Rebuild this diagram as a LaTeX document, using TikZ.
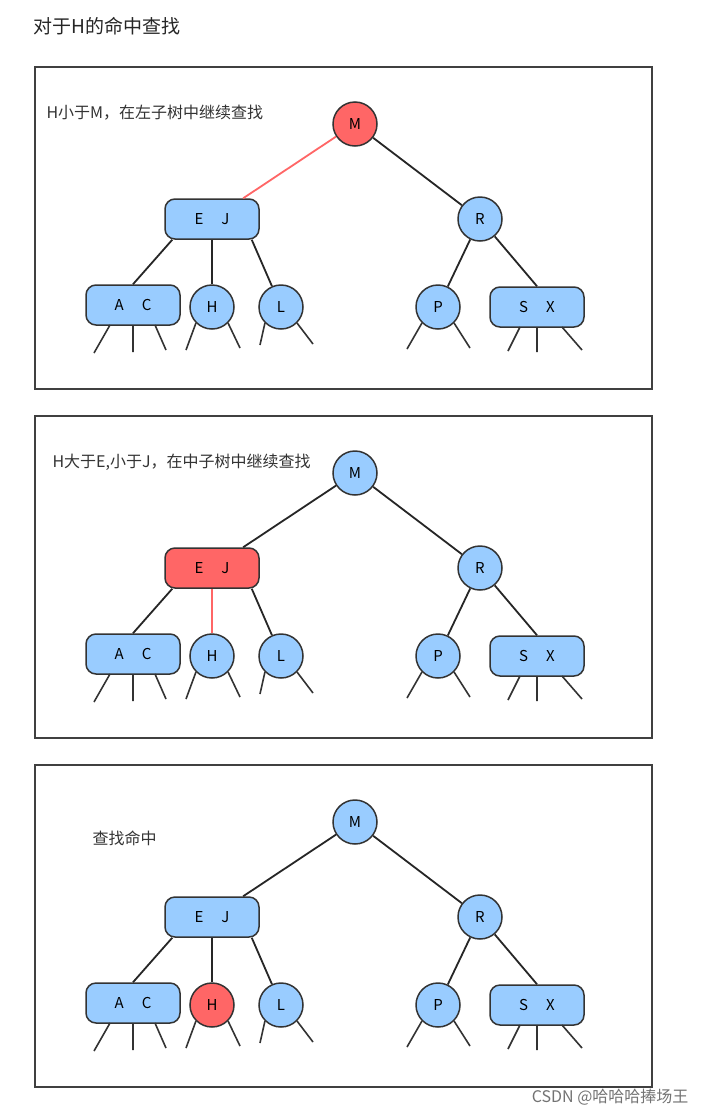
\documentclass[tikz,border=0pt]{standalone}
\usepackage{fontspec}
\setmainfont{Noto Sans CJK SC}
\usepackage{tikz}
\usetikzlibrary{positioning}

\definecolor{nodeblue}{HTML}{99CCFF}
\definecolor{hitred}{HTML}{FF6666}
\tikzset{
  circ/.style={circle,draw=black!80,line width=1.5pt,minimum size=44pt,inner sep=0pt,font=\fontsize{15}{15}\selectfont},
  pair/.style={rounded corners=10pt,draw=black!80,line width=1.5pt,minimum width=94pt,minimum height=40pt,inner sep=0pt,font=\fontsize{15}{15}\selectfont},
  edge/.style={line width=1.8pt,black!85},
  stub/.style={line width=1.6pt,black!80},
  frame/.style={draw=black!75,line width=1.4pt},
  note/.style={anchor=west,font=\fontsize{16}{16}\selectfont,black!80},
}

% one panel: #1 prefix, #2 M fill, #3 EJ fill, #4 H fill, #5 M-EJ colour, #6 EJ-H colour
\newcommand{\treepanel}[6]{
  \begin{scope}[name prefix=#1-]
    \draw[frame] (35,67) rectangle (652,389);
    \node[circ,fill=#2] (m) at (355,124) {M};
    \node[pair,fill=#3] (ej) at (212,219) {E\hspace{18pt}J};
    \node[circ,fill=nodeblue] (r) at (480,219) {R};
    \node[pair,fill=nodeblue] (ac) at (133,305) {A\hspace{18pt}C};
    \node[circ,fill=#4] (h) at (212,307) {H};
    \node[circ,fill=nodeblue] (l) at (281,307) {L};
    \node[circ,fill=nodeblue] (p) at (438,307) {P};
    \node[pair,fill=nodeblue] (sx) at (537,307) {S\hspace{18pt}X};
    \draw[edge,#5] (m) -- (ej);
    \draw[edge] (m) -- (r);
    \draw[edge] (ej.south west) ++(8,0) -- (ac.north);
    \draw[edge,#6] (ej.south) -- (h);
    \draw[edge] (ej.south east) ++(-8,0) -- (l);
    \draw[edge] (r) -- (p);
    \draw[edge] (r) -- (sx.north);
    % empty subtrees
    \draw[stub] (110,325) -- (94,353) (133,325) -- (133,352) (155,325) -- (166,350);
    \draw[stub] (h.south west) -- (186,350) (h.south east) -- (240,348);
    \draw[stub] (l.south west) -- (260,345) (l.south east) -- (313,344);
    \draw[stub] (p.south west) -- (407,349) (p.south east) -- (470,348);
    \draw[stub] (520,327) -- (508,351) (537,327) -- (537,352) (562,327) -- (582,350);
  \end{scope}
}

\begin{document}
\begin{tikzpicture}[x=1pt,y=-1pt]
  \useasboundingbox[fill=white] (0,0) rectangle (706,1114);
  \node[anchor=west,font=\fontsize{19}{19}\selectfont,black!85] (title) at (30,26) {对于H的命中查找};
  \treepanel{p1}{hitred}{nodeblue}{nodeblue}{hitred}{black!85}
  \node[note] (note1) at (43,113) {H小于M，在左子树中继续查找};
  \begin{scope}[shift={(0,349)}]
    \treepanel{p2}{nodeblue}{hitred}{nodeblue}{black!85}{hitred}
    \node[note] (note2) at (49,113) {H大于E,小于J，在中子树中继续查找};
  \end{scope}
  \begin{scope}[shift={(0,698)}]
    \treepanel{p3}{nodeblue}{nodeblue}{hitred}{black!85}{black!85}
    \node[note] (note3) at (89,140) {查找命中};
  \end{scope}
  \node[anchor=east,font=\fontsize{16}{16}\selectfont,black!55] (credit) at (692,1097) {CSDN @哈哈哈捧场王};
\end{tikzpicture}
\end{document}
